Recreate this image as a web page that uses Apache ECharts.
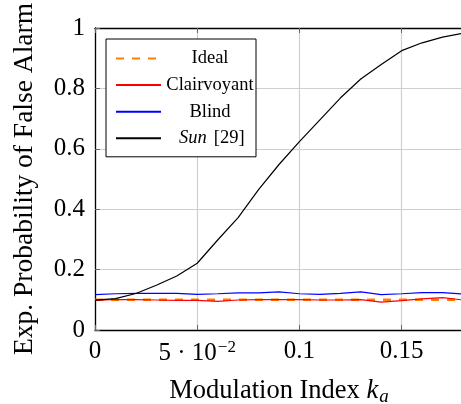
<!DOCTYPE html>
<html>
<head>
<meta charset="utf-8">
<script src="https://cdn.jsdelivr.net/npm/echarts@6/dist/echarts.min.js"></script>
<style>
html,body{margin:0;padding:0;background:#fff;}
#chart{width:461px;height:404px;}
</style>
</head>
<body>
<div id="chart"></div>
<script>
// ---- data ----
const kaValues = [0, 0.01, 0.02, 0.03, 0.04, 0.05, 0.06, 0.07, 0.08, 0.09, 0.10, 0.11, 0.12, 0.13, 0.14, 0.15, 0.16, 0.17, 0.18];
const ideal = [0.1, 0.1, 0.1, 0.1, 0.1, 0.1, 0.1, 0.1, 0.1, 0.1, 0.1, 0.1, 0.1, 0.1, 0.1, 0.1, 0.1, 0.1, 0.1];
const clairvoyant = [0.098, 0.101, 0.1006, 0.0994, 0.098, 0.098, 0.095, 0.0994, 0.1006, 0.1006, 0.1006, 0.0994, 0.0994, 0.1006, 0.092, 0.097, 0.103, 0.107, 0.0994];
const blind = [0.117, 0.120, 0.1215, 0.1215, 0.1215, 0.118, 0.120, 0.123, 0.123, 0.126, 0.120, 0.118, 0.1215, 0.126, 0.117, 0.120, 0.124, 0.124, 0.119];
const sun = [0.099, 0.104, 0.121, 0.148, 0.179, 0.221, 0.298, 0.372, 0.465, 0.548, 0.624, 0.696, 0.768, 0.831, 0.879, 0.925, 0.951, 0.970, 0.983];
const seriesNames = ['Ideal', 'Clairvoyant', 'Blind', 'Sun [29]'];
const xTickLabels = {0: '0', 5: '{b|5 · 10}{sup|−2}', 10: '0.1', 15: '0.15'};
const yTickLabels = {0: '0', 2: '0.2', 4: '0.4', 6: '0.6', 8: '0.8', 10: '1'};

const FONT = '"Liberation Serif", "Times New Roman", serif';
const pairs = arr => kaValues.map((x, i) => [x, arr[i]]);

const chart = echarts.init(document.getElementById('chart'), null, {renderer: 'canvas'});

const tickStyle = {show: true, inside: true, length: 5, lineStyle: {color: '#666', width: 1}};

chart.setOption({
  animation: false,
  backgroundColor: '#fff',
  grid: {left: 95, top: 28, width: 368, height: 302, containLabel: false, outerBoundsMode: 'none'},
  xAxis: [{
    type: 'value', min: 0, max: 0.18, interval: 0.05, position: 'bottom',
    axisLine: {show: true, onZero: false, lineStyle: {color: '#000', width: 1.3}},
    axisTick: tickStyle,
    splitLine: {show: true, lineStyle: {color: '#cfcfcf', width: 1.2}},
    axisLabel: {
      margin: 9, color: '#000', fontFamily: FONT, fontSize: 25,
      formatter: v => xTickLabels[Math.round(v * 100)] ?? '',
      rich: {
        b: {fontFamily: FONT, fontSize: 25, color: '#000'},
        sup: {fontFamily: FONT, fontSize: 17, color: '#000', verticalAlign: 'top', padding: [0, 0, 12, 1]}
      }
    },
    name: '{r|Modulation Index }{i|k}{s|a}',
    nameLocation: 'middle', nameGap: 47,
    nameTextStyle: {
      rich: {
        r: {fontFamily: FONT, fontSize: 26.5, color: '#000'},
        i: {fontFamily: FONT, fontSize: 26.5, fontStyle: 'italic', color: '#000'},
        s: {fontFamily: FONT, fontSize: 19, fontStyle: 'italic', color: '#000', padding: [10, 0, 0, 1]}
      }
    }
  }, {
    type: 'value', min: 0, max: 0.18, interval: 0.05, position: 'top',
    axisLine: {show: true, onZero: false, lineStyle: {color: '#000', width: 1.3}},
    axisTick: tickStyle,
    splitLine: {show: false},
    axisLabel: {show: false}
  }],
  yAxis: [{
    type: 'value', min: 0, max: 1, interval: 0.2, position: 'left',
    axisLine: {show: true, onZero: false, lineStyle: {color: '#000', width: 1.3}},
    axisTick: tickStyle,
    splitLine: {show: true, lineStyle: {color: '#cfcfcf', width: 1.2}},
    axisLabel: {
      margin: 10, color: '#000', fontFamily: FONT, fontSize: 25,
      formatter: v => yTickLabels[Math.round(v * 10)] ?? ''
    },
    name: 'Exp. Probability of False Alarm',
    nameLocation: 'middle', nameGap: 56.5,
    nameTextStyle: {fontFamily: FONT, fontSize: 27.5, color: '#000'}
  }],
  legend: {
    orient: 'vertical', left: 106, top: 39,
    itemWidth: 45, itemHeight: 20, itemGap: 7.6,
    padding: [10, 2, 9, 9],
    backgroundColor: '#fff', borderColor: '#000', borderWidth: 1, borderRadius: 0,
    itemStyle: {opacity: 0},
    data: seriesNames,
    formatter: name => name === 'Sun [29]' ? '{si|Sun}{sn|[29]}' : '{c|' + name + '}',
    textStyle: {
      fontFamily: FONT, fontSize: 18.5, color: '#000',
      rich: {
        c: {fontFamily: FONT, fontSize: 18.5, color: '#000', width: 88, align: 'center', lineHeight: 20},
        si: {fontFamily: FONT, fontSize: 18.5, fontStyle: 'italic', color: '#000', lineHeight: 20, padding: [0, 0, 0, 13]},
        sn: {fontFamily: FONT, fontSize: 18.5, color: '#000', lineHeight: 20, padding: [0, 0, 0, 7]}
      }
    }
  },
  series: [
    {name: seriesNames[0], type: 'line', data: pairs(ideal), symbol: 'none',
     lineStyle: {color: '#ff8000', width: 2.5, type: [8, 8]}, itemStyle: {color: '#ff8000'}},
    {name: seriesNames[1], type: 'line', data: pairs(clairvoyant), symbol: 'none',
     lineStyle: {color: '#ff0000', width: 1.2}, itemStyle: {color: '#ff0000'}},
    {name: seriesNames[2], type: 'line', data: pairs(blind), symbol: 'none',
     lineStyle: {color: '#0000ff', width: 1.2}, itemStyle: {color: '#0000ff'}},
    {name: seriesNames[3], type: 'line', data: pairs(sun), symbol: 'none',
     lineStyle: {color: '#000000', width: 1.2}, itemStyle: {color: '#000000'}}
  ]
});
</script>
</body>
</html>
